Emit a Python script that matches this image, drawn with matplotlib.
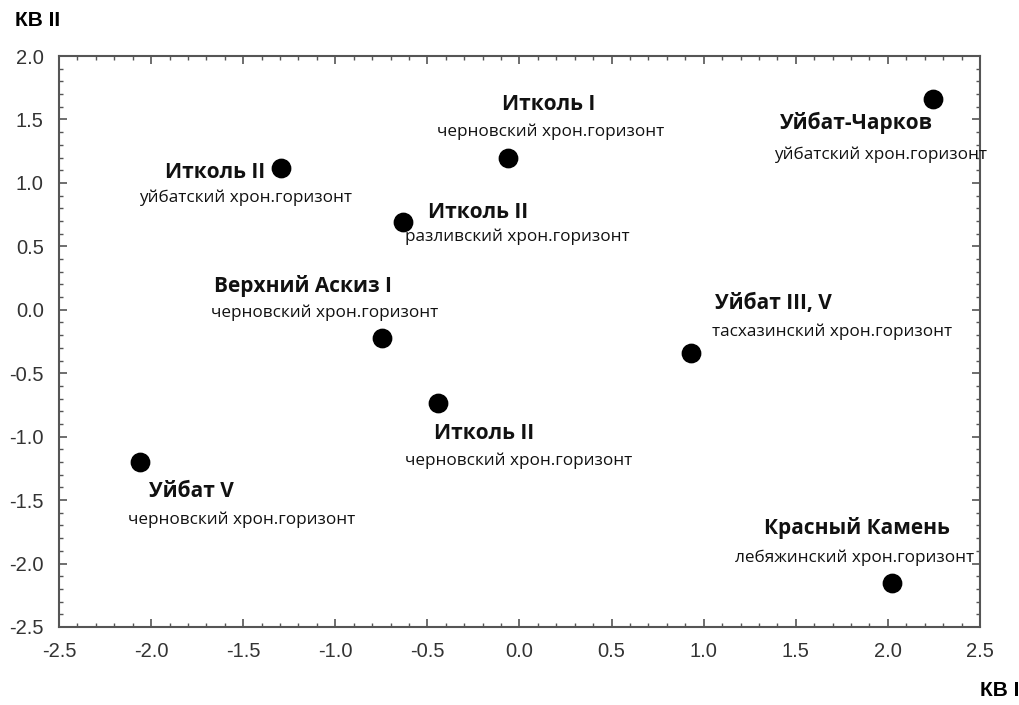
import matplotlib
matplotlib.use("Agg")
import matplotlib.pyplot as plt
from matplotlib.ticker import MultipleLocator

# scores on the two canonical variables
kv1 = [2.245, -0.062, -1.295, -0.632, -0.746, 0.931, -0.442, -2.060, 2.022]
kv2 = [1.66, 1.196, 1.117, 0.692, -0.222, -0.340, -0.734, -1.199, -2.153]
names = ["Уйбат-Чарков", "Итколь I", "Итколь II", "Итколь II", "Верхний Аскиз I",
         "Уйбат III, V", "Итколь II", "Уйбат V", "Красный Камень"]
horizons = ["уйбатский хрон.горизонт", "черновский хрон.горизонт",
            "уйбатский хрон.горизонт", "разливский хрон.горизонт",
            "черновский хрон.горизонт", "тасхазинский хрон.горизонт",
            "черновский хрон.горизонт", "черновский хрон.горизонт",
            "лебяжинский хрон.горизонт"]

# label offsets from each point, in pixels (name, horizon)
name_off = [(-77, -24), (41, 54), (-66, -4), (75, 9), (-79, 52),
            (82, 49), (46, -31), (51, -30), (-35, 55)]
hor_off = [(-53, -56), (43, 26), (-35, -30), (114, -15), (-57, 25),
           (141, 21), (81, -58), (102, -58), (-37, 25)]

fig = plt.figure(figsize=(10.2, 7.05), dpi=100)
ax = fig.add_axes([59 / 1020, 1 - 627 / 705, 921 / 1020, 571 / 705])

ax.scatter(kv1, kv2, s=175, color="black", zorder=3)

for i in range(len(kv1)):
    ax.annotate(names[i], (kv1[i], kv2[i]), xytext=(name_off[i][0] * 0.72, name_off[i][1] * 0.72),
                textcoords="offset points", ha="center", va="center",
                fontsize=15, fontweight="bold", family="Open Sans", color="#111111")
    ax.annotate(horizons[i], (kv1[i], kv2[i]), xytext=(hor_off[i][0] * 0.72, hor_off[i][1] * 0.72),
                textcoords="offset points", ha="center", va="center",
                fontsize=12.3, family="Open Sans", color="#111111")

ax.set_xlim(-2.5, 2.5)
ax.set_ylim(-2.5, 2.0)
ax.xaxis.set_major_locator(MultipleLocator(0.5))
ax.xaxis.set_minor_locator(MultipleLocator(0.1))
ax.yaxis.set_major_locator(MultipleLocator(0.5))
ax.yaxis.set_minor_locator(MultipleLocator(0.1))
ax.xaxis.set_major_formatter(lambda v, p: f"{v:.1f}")
ax.yaxis.set_major_formatter(lambda v, p: f"{v:.1f}")

ax.tick_params(which="both", direction="in", top=True, right=True, color="#555555")
ax.tick_params(which="major", length=6, width=1.2, labelsize=14.5, labelcolor="#333333")
ax.tick_params(axis="x", which="major", pad=11)
ax.tick_params(axis="y", which="major", pad=11)
ax.tick_params(which="minor", length=3, width=1)
for lbl in ax.get_xticklabels() + ax.get_yticklabels():
    lbl.set_family("Liberation Sans")
for sp in ax.spines.values():
    sp.set_color("#555555")
    sp.set_linewidth(1.5)

fig.text(38 / 1020, 1 - 21 / 705, "КВ II", ha="center", va="center",
         fontsize=15, fontweight="bold", family="Liberation Sans")
fig.text(1000 / 1020, 1 - 690 / 705, "КВ I", ha="center", va="center",
         fontsize=15, fontweight="bold", family="Liberation Sans")

fig.savefig("out.png", dpi=100)
